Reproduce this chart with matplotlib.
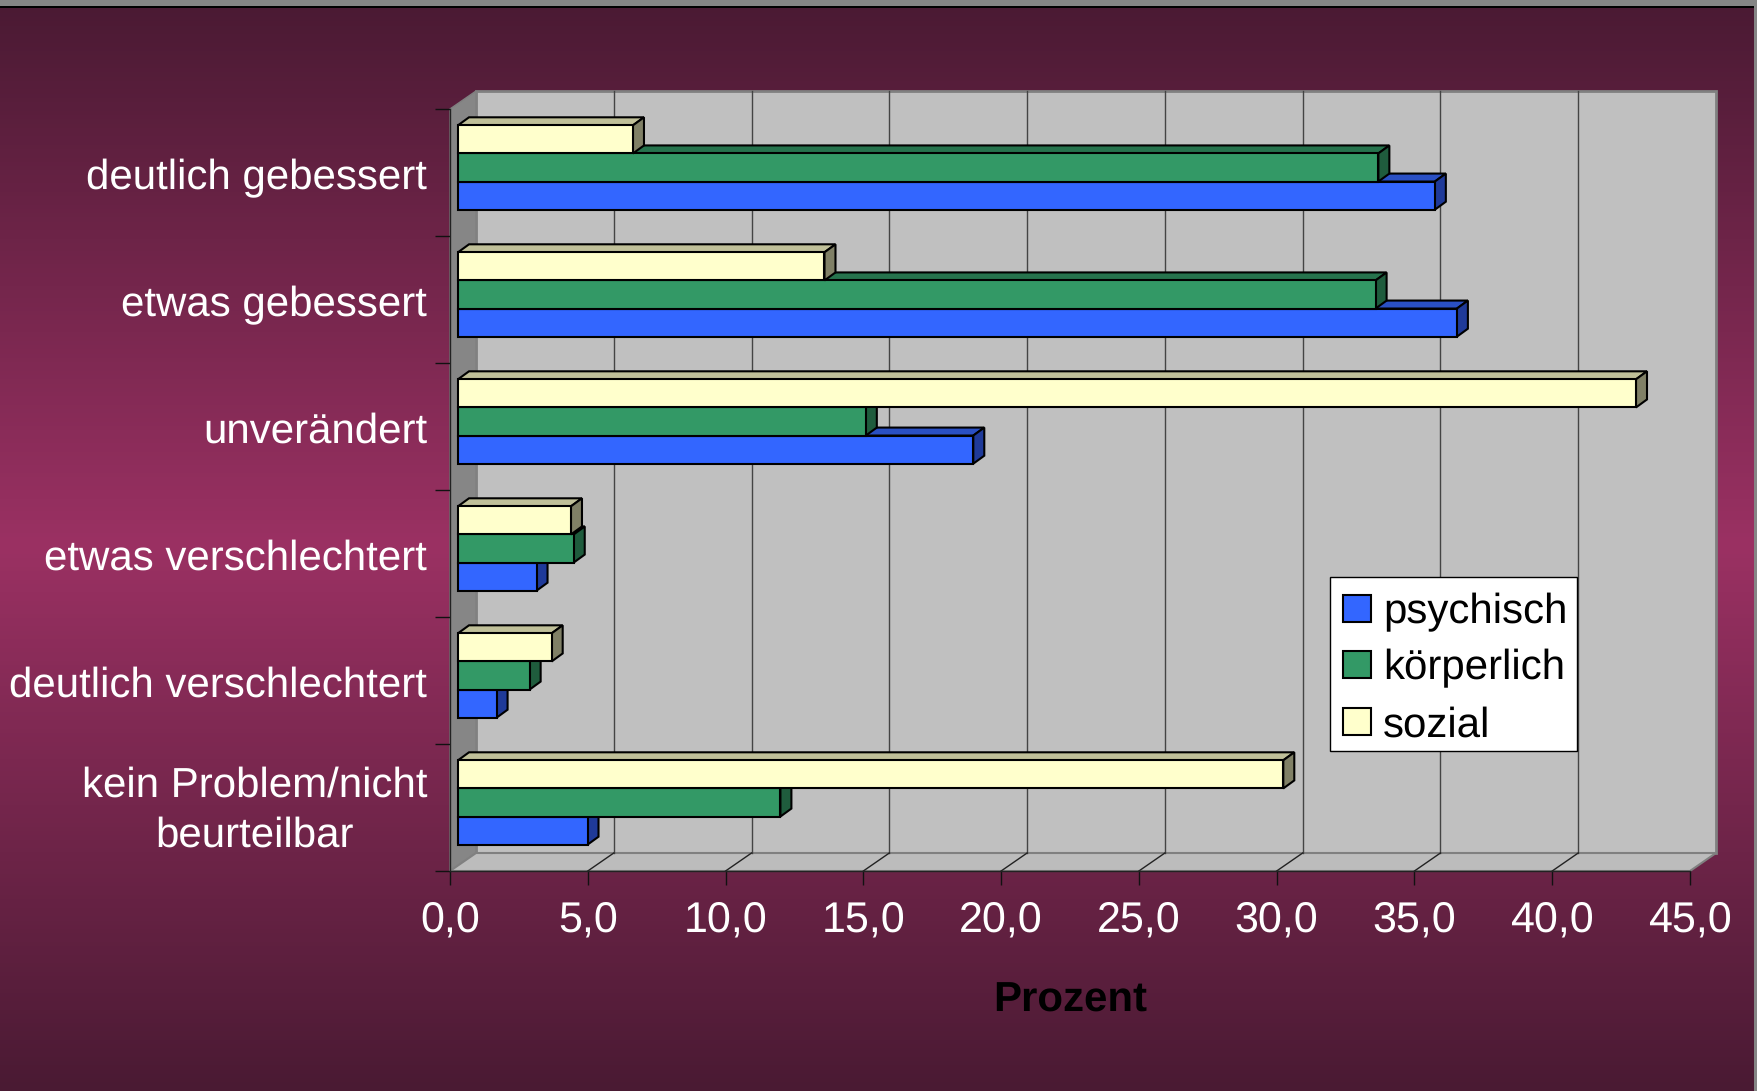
import matplotlib
matplotlib.use('Agg')
import matplotlib.pyplot as plt
from matplotlib.colors import LinearSegmentedColormap
from matplotlib.patches import Patch, Polygon, Rectangle
import numpy as np

categories = ['deutlich gebessert', 'etwas gebessert', 'unverändert', 'etwas verschlechtert',
              'deutlich verschlechtert', 'kein Problem/nicht\nbeurteilbar']
sozial = [6.35, 13.3, 42.75, 4.1, 3.4, 29.95]
koerperlich = [33.4, 33.3, 14.8, 4.2, 2.6, 11.7]
psychisch = [35.45, 36.25, 18.7, 2.85, 1.4, 4.7]
xticks = [0, 5, 10, 15, 20, 25, 30, 35, 40, 45]
xticklabels = ['0,0', '5,0', '10,0', '15,0', '20,0', '25,0', '30,0', '35,0', '40,0', '45,0']

W, H = 1758, 1091
plt.rcParams['font.family'] = ['Liberation Sans', 'DejaVu Sans']
plt.rcParams['text.hinting'] = 'no_hinting'
plt.rcParams['text.hinting_factor'] = 1

fig = plt.figure(figsize=(W / 100, H / 100), dpi=100)

# background gradient
bg = fig.add_axes([0, 0, 1, 1], zorder=0)
cmap = LinearSegmentedColormap.from_list('bg', ['#4a1a33', '#9b3163', '#4a1a33'])
bg.imshow(np.linspace(0, 1, 256).reshape(-1, 1), cmap=cmap, aspect='auto', extent=[0, W, H, 0])
bg.add_patch(Rectangle((0, 0), W, 6, color='#858585', lw=0))
bg.add_patch(Rectangle((0, 6), W, 1.5, color='black', lw=0))
bg.add_patch(Rectangle((W - 4, 0), 4, H, color='#858585', lw=0))
bg.set_xlim(0, W)
bg.set_ylim(H, 0)
bg.axis('off')

# front plane of the 3d box
x0, x1, y0, y1 = 450, 1690, 109, 871
ax = fig.add_axes([x0 / W, 1 - y1 / H, (x1 - x0) / W, (y1 - y0) / H], zorder=1)
ax.patch.set_visible(False)
ax.set_xlim(0, 45)
ax.set_ylim(6, 0)
px = 45 / (x1 - x0)
py = 6 / (y1 - y0)

# walls
wx, wy = 26 * px, -18 * py
ax.add_patch(Polygon([(wx, wy), (45 + wx, wy), (45 + wx, 6 + wy), (wx, 6 + wy)],
                     fc='#c0c0c0', ec='#808080', lw=2, clip_on=False, zorder=1))
ax.add_patch(Polygon([(0, 0), (wx, wy), (wx, 6 + wy), (0, 6)],
                     fc='#868686', ec='#808080', lw=1, clip_on=False, zorder=1))
ax.add_patch(Polygon([(0, 6), (45, 6), (45 + wx, 6 + wy), (wx, 6 + wy)],
                     fc='#bcbcbc', ec='#808080', lw=1.5, clip_on=False, zorder=1))
for t in xticks[1:-1]:
    ax.plot([t + wx, t + wx], [wy, 6 + wy], color='#444444', lw=1, clip_on=False, zorder=2)
    ax.plot([t, t + wx], [6, 6 + wy], color='#222222', lw=1, clip_on=False, zorder=2)

# bars: blue first, yellow last so the upper ones cover the top faces below
bx, by = 8 * px, -5 * py
dx, dy = 11 * px, -8 * py
h = 0.2215
series = [
    ('psychisch', psychisch, h, '#3366ff', '#2a50c4', '#1f3a99'),
    ('körperlich', koerperlich, 0, '#339966', '#26734d', '#1f5c3d'),
    ('sozial', sozial, -h, '#ffffcc', '#c0c099', '#808066'),
]
ypos = np.arange(6) + 0.5
z = 3
for name, vals, off, c_front, c_top, c_side in series:
    for y, v in zip(ypos + off + by, vals):
        ax.add_patch(Polygon([(bx, y - h / 2), (bx + dx, y - h / 2 + dy), (bx + v + dx, y - h / 2 + dy), (bx + v, y - h / 2)],
                             fc=c_top, ec='black', lw=1.5, clip_on=False, zorder=z))
        ax.add_patch(Polygon([(bx + v, y - h / 2), (bx + v + dx, y - h / 2 + dy), (bx + v + dx, y + h / 2 + dy), (bx + v, y + h / 2)],
                             fc=c_side, ec='black', lw=1.5, clip_on=False, zorder=z))
    ax.barh(ypos + off + by, vals, height=h, left=bx, color=c_front, edgecolor='black', lw=1.5,
            clip_on=False, zorder=z + 1, label=name)
    z += 2

for s in ['top', 'right']:
    ax.spines[s].set_visible(False)
for s in ['left', 'bottom']:
    ax.spines[s].set_color('#222222')
    ax.spines[s].set_linewidth(1)
    ax.spines[s].set_zorder(2)

ax.set_xticks(xticks)
ax.set_xticklabels(xticklabels, fontsize=31, color='white')
ax.tick_params(axis='x', length=10, width=1, color='#111111', pad=11)
ax.set_yticks(range(7))
ax.set_yticklabels([])
# the two line label sits a little above the middle of its band
ax.set_yticks([0.51, 1.51, 2.51, 3.51, 4.51, 5.45], minor=True)
ax.set_yticklabels(categories, minor=True, fontsize=30, color='white', ma='center', linespacing=1.35)
ax.tick_params(axis='y', which='major', length=11, width=1, color='#111111')
ax.tick_params(axis='y', which='minor', length=0, pad=16.5)
ax.set_xlabel('Prozent', fontsize=30, fontweight='bold', color='black', labelpad=29.5)

# legend frame is drawn apart, the row spacing would blow up the built in one
ax.add_patch(Rectangle((1330 / W, 1 - 751 / H), 247 / W, 174 / H, transform=fig.transFigure,
                       fc='white', ec='black', lw=1, clip_on=False, zorder=19))
handles = [Patch(fc=s[3], ec='black', lw=1.5, label=s[0]) for s in series]
leg = ax.legend(handles=handles, loc='upper left', bbox_to_anchor=(1331 / W, 1 - 580 / H),
                bbox_transform=fig.transFigure, fontsize=30, frameon=False, borderaxespad=0,
                handlelength=0.65, handleheight=0.62, handletextpad=0.3,
                labelspacing=0.42, borderpad=0.3)
leg.set_zorder(20)

fig.savefig('out.png', dpi=100)
